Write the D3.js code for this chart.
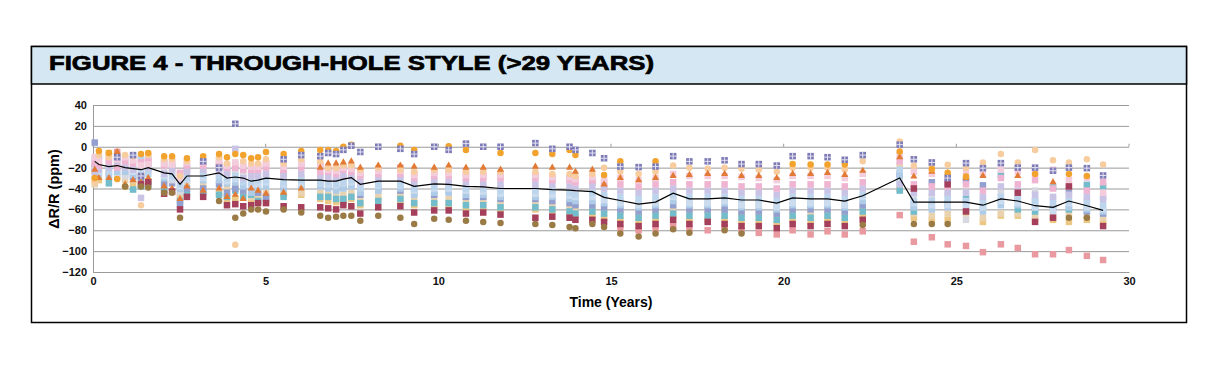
<!DOCTYPE html>
<html>
<head>
<meta charset="utf-8">
<script src="https://cdn.jsdelivr.net/npm/d3@7"></script>
<style>
  body { margin: 0; background: #fff; }
  svg text { font-family: "Liberation Sans", Arial, sans-serif; }
</style>
</head>
<body>
<div id="chart"></div>
<script>
// Inspection times (years) - one column of markers per time
var times = [0.05, 0.17, 0.46, 0.70, 0.93, 1.16, 1.39, 1.60, 2.06, 2.29,
  2.52, 2.72, 3.19, 3.65, 3.88, 4.12, 4.35, 4.58, 4.78, 5.01,
  5.52, 6.03, 6.58, 6.81, 7.04, 7.25, 7.48, 7.74, 8.26, 8.90,
  9.30, 9.88, 10.30, 10.80, 11.30, 11.80, 12.81, 13.30, 13.80, 13.97,
  14.46, 14.80, 15.27, 15.80, 16.29, 16.80, 17.27, 17.80, 18.29, 18.78,
  19.28, 19.80, 20.26, 20.78, 21.27, 21.77, 22.29, 23.36, 23.77, 24.29,
  24.75, 25.28, 25.77, 26.29, 26.78, 27.28, 27.80, 28.26, 28.78, 29.25]

// average drift (black line)
var meanValues = [-14, -17, -19, -18, -20, -21, -22, -20, -25, -26,
  -36, -28, -28, -25, -30, -29, -30, -33, -32, -30,
  -31.5, -32, -32, -33, -33, -31, -29.5, -36, -33, -33,
  -38, -35.5, -36, -38, -38.5, -40, -40, -41, -41.5, -42,
  -43, -48.5, -51.5, -55, -53, -44.5, -50, -50, -49, -51,
  -51, -54, -49, -50, -50, -52, -47, -30, -53, -53,
  -53, -53, -56, -50, -52, -56.5, -58, -52, -56.5, -61]

// individual resistor series, aligned with times (null = no reading)
var purpleValues = [null, null, null, -10, null, -8, -28, null, null, null,
  null, null, -14, -20, null, 22, null, null, null, null,
  -12, -8, -9, -6, -7, -3, 1, -5, 0, -2,
  -7, 0, -3, 3, 0, 0, 3.5, -2, 0, -3,
  -6, -11, -19, -19.5, -19, -9, -14, -14, -13, -16.6,
  -16.6, -18, -9, -9, -10, -12.5, -8, 2, -12, -15,
  -30, -15.7, -20.5, -15.7, -20, -20, -23, -20, -20.5, -27.5]
var orangeValues = [-30, -4, -6, -31, -38, null, -7, -6, -9, -9,
  null, -11, -9, -7, -10, -7, -8, -11, -10, -5,
  -7, -4, -3, -3, -4, 0, 2, null, null, 1,
  -3, null, 0.5, -3, null, -6, -6, -7, -3, -8,
  null, -27, -14, null, -14, null, null, null, null, null,
  null, null, -16.6, -17, -17, -17, null, -4.5, null, -21.5,
  -25, -28.5, null, null, null, -26, null, -26, -28, null]
var triangleValues = [-22, -30, -30, -5, -36, -32, -34, -30, -38, -40,
  -50, -38, -42, -40, -48, -46, -50, -40, -42, -45,
  -44, -40, -20, -16, -16, -15, -14, -20, -18, -18,
  -19, -20, -18, -20, -20, -22, -19, -20, -20, -24,
  -22, -36, -30, -32, -30, -28, -27, -26, -26, -28,
  -28, -30, -26, -26, -25, -27, -23, -10, -28.5, -24,
  -25.3, -30, -28, null, -28, null, -34, null, null, null]
var peachValues = [-34, -8, -10, -8, -8, -9, -56, -8, -12, -12,
  -28, -14, -12, -10, -16, -94, -14, -16, -16, -12,
  -16, -12, -14, -20, -20, -18, -18, -22, -20, -22,
  -24, -22, -22, -24, -24, -24, -24, -26, -26, -28,
  -26, -20, -24, -26, -24, -18, -20, -21, -20, -21,
  -22, -24, -20, -20, -20, -22, -14, 5, -18.3, -18,
  -17.3, -20, -15, -7, -15, -3, -13, -15, -12, -17]
var roseValues = [-10, -14, -9, -12, -10, -13, -18, -17, -16, -17,
  -30, -15, -15, -13, -18, -15, -18, -19, -19, -16,
  -19, -16, -18, -22, -23, -20, -21, -25, -23, -23,
  -27, -25, -25, -27, -27, -27, -27, -29, -29, -31,
  -29, -31, -30, -32, -30, -26, -28, -28, -28, -29,
  -30, -32, -28, -28, -28, -30, -26, -8, -24, -26,
  -32, -24, -26, -22, -24, -26, -22, -32, -30, -44]
var pinkValues = [-16, -18, -14, -20, -14, -16, -15, -14, -18, -14,
  -25, -18, -18, -16, -20, -20, -22, -22, -22, -20,
  -22, -20, -24, -24, -26, -22, -24, -28, -26, -26,
  -30, -28, -28, -30, -30, -30, -30, -32, -32, -34,
  -32, -34, -36, -38, -36, -34, -36, -36, -36, -38,
  -38, -40, -36, -36, -36, -38, -34, -14, -36, -38,
  -38, -36, -42, -30, -36, -32, -40, -38, -42, -34]
var lavenderValues = [-24, -22, -20, -14, -20, -22, -49, -20, -26, -22,
  -32, -24, -22, -24, -26, -2, -30, -28, -28, -26,
  -28, -26, -28, -30, -30, -28, -28, -34, -30, -30,
  -34, -32, -34, -34, -36, -36, -36, -36, -38, -40,
  -38, -40, -42, -44, -42, -40, -42, -42, -42, -44,
  -44, -46, -42, -42, -42, -44, -40, -36, -44, -44,
  -44, -44, -48, -38, -42, -46, -48, -46, -48, -50]
var blueValues = [-12, -12, -24, -17, -12, -12, -11, -26, -14, -28,
  -36, -30, -27, -28, -30, -28, -34, -34, -32, -32,
  -34, -32, -34, -34, -36, -34, -32, -40, -36, -36,
  -40, -38, -38, -40, -40, -42, -42, -42, -44, -46,
  -44, -46, -48, -50, -48, -46, -48, -48, -48, -50,
  -50, -52, -48, -48, -48, -50, -46, -22, -52, -52,
  -50, -52, -54, -48, -50, -52, -54, -52, -54, -56]
var mistValues = [-22, -24, -22, -20, -17, -24, -26, -23, -28, -30,
  -38, -32, -30, -26, -33, -31, -32, -37, -36, -34,
  -36, -35, -35, -36, -37, -35, -34, -39, -37, -37,
  -42, -40, -40, -42, -43, -45, -45, -46, -47, -48,
  -48, -51, -54, -56, -54, -48, -54, -54, -52, -56,
  -56, -58, -54, -54, -54, -56, -48, -34, -54, -56,
  -56, -56, -58, -52, -54, -58, -62, -54, -58, -60]
var skyValues = [-20, -26, -28, -24, -24, -27, -22, -18, -30, -18,
  -40, -20, -32, -32, -35, -34, -38, -44, -40, -38,
  -40, -38, -38, -40, -42, -40, -38, -44, -42, -40,
  -46, -44, -44, -46, -46, -48, -48, -48, -50, -52,
  -52, -54, -56, -58, -56, -52, -56, -56, -54, -58,
  -58, -60, -56, -56, -56, -58, -52, -28, -58, -60,
  -58, -58, -62, -56, -56, -58, -60, -58, -60, -62]
var greyValues = [-27, -15, -17, -27, -28, -19, -19, -10, -22, -32,
  -43, -26, -16, -20, -22, -24, -26, -30, -36, -28,
  -30, -30, -30, -28, -32, -30, -30, -36, -32, -32,
  -36, -34, -36, -38, -38, -40, -40, -40, -42, -44,
  -42, -48, -52, -54, -52, -50, -52, -52, -50, -54,
  -54, -56, -52, -52, -52, -54, -50, -32, -48, -48,
  -46, -70, -50, -44, -46, -42, -50, -48, -52, -48]
var tanValues = [-36, -28, -12, -29, -32, -32, -25, -22, -34, -25,
  -46, -34, -37, -14, -40, -38, -44, -48, -46, -44,
  -46, -44, -44, -46, -46, -46, -44, -50, -46, -46,
  -50, -50, -50, -52, -52, -54, -54, -56, -58, -58,
  -58, -60, -62, -64, -62, -60, -62, -62, -62, -64,
  -64, -66, -62, -64, -62, -64, -58, -18, -64, -66,
  -64, -64, -68, -64, -64, -66, -66, -64, -66, -68]
var tealValues = [null, null, -35, null, null, -41, -38, -36, -41, null,
  -52, -45, -44, -46, -48, -42, -48, -46, -52, -50,
  -48, null, -48, -48, -50, -50, -48, -54, -52, -50,
  -54, -54, -54, -56, -56, -58, -58, -60, -62, -64,
  -62, -64, -66, -68, -66, -64, -66, -66, -66, -68,
  -68, -70, -66, -68, -66, -68, -62, -42, -62, -56,
  -54, -50, -58, -27, -60, -62, -39, -60, -36.5, -38]
var slateValues = [4, -10, -26, -11, -26, -29, -30, null, -36, -35,
  -55, -40, -40, -36, -44, -40, -42, -38, -44, -48,
  -38, -36, -36, -38, -40, -38, -36, -46, -40, -42,
  -44, -46, -42, -48, -48, -50, -50, -52, -54, -56,
  -56, -58, -60, -62, -60, -56, -60, -60, -60, -62,
  -62, -64, -60, -60, -60, -62, -56, -26, -56, -34,
  -35, -32, -37, -52, -50, -52, -58, -42, -62, -64]
var yellowValues = [-32, -32, -6, null, null, -36, -32, -33, null, null,
  -48, null, null, -44, -50, -50, null, -50, -48, -53,
  -46, -46, -50, -52, -53, -52, -50, -56, -50, -52,
  -56, -56, -56, -58, -58, -60, -60, -62, -64, -66,
  -66, -68, -70, -72, -70, -66, -70, -70, -70, -72,
  -72, -74, -70, -72, -70, -72, -66, -40, -68, -70,
  -70, -62, -72, -66, -66, -70, -70, -72, -70, -72]
var maroonValues = [null, null, null, null, null, null, -36, -34, -45, -43,
  -60, -48, -48, null, -56, -55, -57, -56, -54, -54,
  -57, -58, -58, -59, -60, -56, -57, -64, -58, -57,
  -63, -61, -61, -64, -63, -65, -68, -67, -68, -70,
  -70, -72, -74, -76, -74, -70, -74, -72, -74, -76,
  -76, -78, -74, -76, -74, -76, -70, null, -40, null,
  -36, -62, null, null, -44, -72, -68, -38, null, -76]
var brownValues = [null, null, null, null, -38, null, -38, -39, -44, -44,
  -68, null, null, -52, null, -68, -64, -60, -60, -62,
  -60, -63, -66, -68, -67, -66, -66, -71, -66, -68,
  -74, -69, -70, -71, -72, -73, -74, -75, -77, -78,
  -74, -77, -83, -86, -83, -79, -82.5, null, -80, -83,
  null, null, null, null, null, null, -75, null, -74, -74,
  -74, null, null, null, null, null, null, -68, -68, null]
var salmonValues = [-19, -20, null, -5, -18, -24, -12, -12, -16, -20,
  -26, -22, -25, -18, -24, -18, -20, -26, -20, -16,
  -26, -16, -18, -22, -22, -20, -20, -26, -22, -20,
  -26, -24, -24, -26, -28, -28, -28, -30, -30, -32,
  -34, -38, -78, -80, -78, -76, -78, -80, -77, -80,
  -82.5, -84, -80, -84, -81, -84, -81, -65.5, -91, -86.7,
  -93.5, -95, -101, -93.5, -97, -103, -103, -99, -104.5, -108.5]

var yTicks = [40, 20, 0, -20, -40, -60, -80, -100, -120]
var xTicks = [0, 5, 10, 15, 20, 25, 30]

// order = drawing order; later ones on top
var series = [
  { values: salmonValues, color: '#e99aa0', shape: 'square' },
  { values: yellowValues, color: '#ecc884', shape: 'square' },
  { values: tanValues, color: '#e8d2b0', shape: 'square' },
  { values: tealValues, color: '#72bccb', shape: 'square' },
  { values: slateValues, color: '#939fcf', shape: 'square' },
  { values: greyValues, color: '#d8d8e0', shape: 'square' },
  { values: skyValues, color: '#aecbe7', shape: 'square' },
  { values: mistValues, color: '#cbdcee', shape: 'square' },
  { values: blueValues, color: '#bcd5ec', shape: 'square' },
  { values: lavenderValues, color: '#c9c4e6', shape: 'square' },
  { values: pinkValues, color: '#efb4d1', shape: 'square' },
  { values: roseValues, color: '#f4cddd', shape: 'square' },
  { values: peachValues, color: '#f7cc9e', shape: 'circle' },
  { values: triangleValues, color: '#e27a35', shape: 'triangle' },
  { values: orangeValues, color: '#f2a32e', shape: 'circle' },
  { values: maroonValues, color: '#a5405c', shape: 'square' },
  { values: brownValues, color: '#9a7b46', shape: 'circle' },
  { values: purpleValues, color: '#7d7bb5', shape: 'cross' }
]

var svg = d3.select('#chart')
  .append('svg')
  .attr('width', 1218)
  .attr('height', 384)

// frame and title band
svg.append('rect')
  .attr('x', 31.5).attr('y', 46.5)
  .attr('width', 1155).attr('height', 276)
  .attr('fill', '#fff')
  .attr('stroke', '#000')
  .attr('stroke-width', 1.5)

svg.append('rect')
  .attr('x', 31.5).attr('y', 46.5)
  .attr('width', 1155).attr('height', 37.5)
  .attr('fill', '#d4e7f2')
  .attr('stroke', '#000')
  .attr('stroke-width', 1.5)

svg.append('text')
  .text('FIGURE 4 - THROUGH-HOLE STYLE (>29 YEARS)')
  .attr('x', 49)
  .attr('y', 70)
  .attr('font-size', 21)
  .attr('font-weight', 'bold')
  .attr('textLength', 605)
  .attr('lengthAdjust', 'spacingAndGlyphs')
  .attr('stroke', '#000')
  .attr('stroke-width', 0.7)
  .attr('fill', '#000')

var margin = { top: 105, left: 93 }
var width = 1129 - 93
var height = 272 - 105

var g = svg.append('g')
  .attr('transform', 'translate(' + margin.left + ',' + margin.top + ')')

var xPositionScale = d3.scaleLinear().domain([0, 30]).range([0, width])
var yPositionScale = d3.scaleLinear().domain([-120, 40]).range([height, 0])

// gridlines
var yAxis = d3.axisLeft(yPositionScale)
  .tickValues(yTicks)
  .tickSize(-width)
  .tickPadding(6)

g.append('g')
  .attr('class', 'axis y-axis')
  .call(yAxis)
  .call(function(ax) {
    ax.select('.domain').attr('stroke', '#9a9a9a')
    ax.selectAll('.tick line').attr('stroke', '#9a9a9a')
    ax.selectAll('.tick text')
      .attr('font-size', 11)
      .attr('font-weight', 'bold')
      .attr('fill', '#111')
      .attr('font-family', 'Liberation Sans, Arial, sans-serif')
  })

// small ticks on the zero line
g.selectAll('.zero-tick')
  .data(xTicks)
  .enter()
  .append('line')
  .attr('x1', function(d) { return xPositionScale(d) })
  .attr('x2', function(d) { return xPositionScale(d) })
  .attr('y1', yPositionScale(0))
  .attr('y2', yPositionScale(0) - 3)
  .attr('stroke', '#9a9a9a')

var xAxis = d3.axisBottom(xPositionScale).tickValues(xTicks).tickSize(0).tickPadding(5)
g.append('g')
  .attr('class', 'axis x-axis')
  .attr('transform', 'translate(0,' + height + ')')
  .call(xAxis)
  .call(function(ax) {
    ax.select('.domain').attr('stroke', '#9a9a9a')
    ax.selectAll('.tick text')
      .attr('font-size', 11)
      .attr('font-weight', 'bold')
      .attr('fill', '#111')
      .attr('font-family', 'Liberation Sans, Arial, sans-serif')
  })

// markers
var size = 6.5
series.forEach(function(s) {
  var pts = []
  s.values.forEach(function(v, i) {
    if (v !== null) pts.push({ t: times[i], v: v })
  })
  var sel = g.append('g').selectAll('.pt').data(pts).enter()
  if (s.shape === 'circle') {
    sel.append('circle')
      .attr('cx', function(d) { return xPositionScale(d.t) })
      .attr('cy', function(d) { return yPositionScale(d.v) })
      .attr('r', size / 2)
      .attr('fill', s.color)
  } else if (s.shape === 'triangle') {
    sel.append('path')
      .attr('d', d3.symbol().type(d3.symbolTriangle).size(22))
      .attr('transform', function(d) {
        return 'translate(' + xPositionScale(d.t) + ',' + yPositionScale(d.v) + ')'
      })
      .attr('fill', s.color)
  } else {
    var gg = sel.append('g')
      .attr('transform', function(d) {
        return 'translate(' + xPositionScale(d.t) + ',' + yPositionScale(d.v) + ')'
      })
    gg.append('rect')
      .attr('x', -size / 2).attr('y', -size / 2)
      .attr('width', size).attr('height', size)
      .attr('fill', s.color)
    if (s.shape === 'cross') {
      gg.append('path')
        .attr('d', 'M0,-3.2V3.2M-3.2,0H3.2')
        .attr('stroke', '#e4e2f2')
        .attr('stroke-width', 1)
    }
  }
})

// mean line
var line = d3.line()
  .x(function(d, i) { return xPositionScale(times[i]) })
  .y(function(d) { return yPositionScale(d) })

g.append('path')
  .datum(meanValues)
  .attr('d', line)
  .attr('fill', 'none')
  .attr('stroke', '#000')
  .attr('stroke-width', 1.2)

// axis titles
svg.append('text')
  .text('Time (Years)')
  .attr('x', 611)
  .attr('y', 307)
  .attr('text-anchor', 'middle')
  .attr('font-size', 14)
  .attr('font-weight', 'bold')

svg.append('text')
  .text('ΔR/R (ppm)')
  .attr('transform', 'translate(59,189) rotate(-90)')
  .attr('text-anchor', 'middle')
  .attr('font-size', 14.5)
  .attr('font-weight', 'bold')
</script>
</body>
</html>
